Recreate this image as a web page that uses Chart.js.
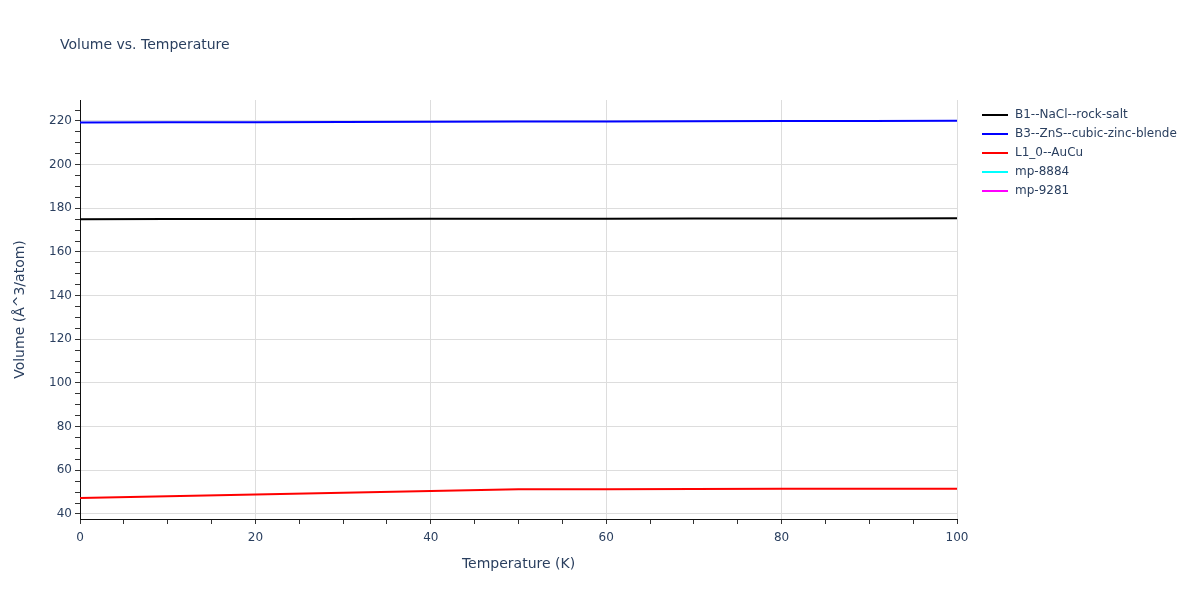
<!DOCTYPE html>
<html>
<head>
<meta charset="utf-8">
<script src="https://cdn.jsdelivr.net/npm/chart.js@4"></script>
<style>
  body { margin: 0; background: #fff; }
  #wrap { width: 1200px; height: 600px; position: relative; }
</style>
</head>
<body>
<div id="wrap"><canvas id="volumeChart"></canvas></div>
<script>
// temperatures (K)
const temps = [0, 10, 20, 30, 40, 50, 60, 70, 80, 90, 100];

// volume per atom for each structure
const rockSalt = [175.0, 175.05, 175.1, 175.14, 175.18, 175.22, 175.26, 175.3, 175.34, 175.38, 175.42];
const zincBlende = [219.3, 219.38, 219.46, 219.54, 219.62, 219.7, 219.78, 219.86, 219.94, 220.02, 220.1];
const auCu = [47.3, 48.1, 48.9, 49.7, 50.5, 51.3, 51.38, 51.44, 51.5, 51.55, 51.6];
const mp8884 = [];
const mp9281 = [];

const seriesNames = ["B1--NaCl--rock-salt", "B3--ZnS--cubic-zinc-blende", "L1_0--AuCu", "mp-8884", "mp-9281"];
const seriesColors = ["#000000", "#0000ff", "#ff0000", "#00ffff", "#ff00ff"];
const seriesValues = [rockSalt, zincBlende, auCu, mp8884, mp9281];

const fontFamily = "'DejaVu Sans', Verdana, sans-serif";
const textColor = "#2a3f5f";

const datasets = seriesNames.map((name, i) => ({
    label: name,
    data: seriesValues[i].map((v, j) => ({ x: temps[j], y: v })),
    borderColor: seriesColors[i],
    backgroundColor: seriesColors[i],
    borderWidth: 2,
    pointRadius: 0,
    tension: 0,
    fill: false,
}));

// title and legend drawn like plotly does
const extras = {
    id: "extras",
    afterDraw(chart) {
        const ctx = chart.ctx;
        ctx.save();
        ctx.fillStyle = textColor;
        ctx.textBaseline = "middle";
        ctx.font = "14px " + fontFamily;
        ctx.fillText("Volume vs. Temperature", 60, 45);

        ctx.font = "12px " + fontFamily;
        chart.data.datasets.forEach((ds, i) => {
            const y = 115 + i * 19;
            ctx.strokeStyle = ds.borderColor;
            ctx.lineWidth = 2;
            ctx.beginPath();
            ctx.moveTo(982, y);
            ctx.lineTo(1008, y);
            ctx.stroke();
            ctx.fillStyle = textColor;
            ctx.fillText(ds.label, 1015, y);
        });
        ctx.restore();
    },
};

function stepTicks(scale, step) {
    const out = [];
    for (let v = Math.ceil(scale.min / step) * step; v <= scale.max; v += step) {
        out.push({ value: v });
    }
    scale.ticks = out;
}

new Chart(document.getElementById("volumeChart"), {
    type: "line",
    data: { datasets: datasets },
    options: {
        responsive: true,
        maintainAspectRatio: false,
        animation: false,
        layout: { padding: { top: 100, right: 243, left: 0, bottom: 0 } },
        plugins: {
            legend: { display: false },
            tooltip: { enabled: false },
        },
        scales: {
            x: {
                type: "linear",
                min: 0,
                max: 100,
                afterBuildTicks: (s) => stepTicks(s, 5),
                afterFit: (s) => { s.height = 81; },
                border: { color: "#111", width: 1 },
                grid: {
                    color: (c) => (c.tick && c.tick.value % 20 === 0 && c.tick.value !== 0 ? "#dddddd" : "rgba(0,0,0,0)"),
                    tickColor: "#333",
                    tickLength: 5,
                    drawTicks: true,
                },
                ticks: {
                    autoSkip: false,
                    maxRotation: 0,
                    padding: 7,
                    color: textColor,
                    font: { family: fontFamily, size: 12 },
                    callback: (v) => (v % 20 === 0 ? v : ""),
                },
                title: {
                    display: true,
                    text: "Temperature (K)",
                    color: textColor,
                    font: { family: fontFamily, size: 14 },
                    padding: { top: 1, bottom: 27 },
                },
            },
            y: {
                min: 37.7,
                max: 229.6,
                afterBuildTicks: (s) => stepTicks(s, 5),
                afterFit: (s) => { s.width = 80; },
                border: { color: "#111", width: 1 },
                grid: {
                    color: (c) => (c.tick && c.tick.value % 20 === 0 ? "#dddddd" : "rgba(0,0,0,0)"),
                    tickColor: "#333",
                    tickLength: 5,
                },
                ticks: {
                    autoSkip: false,
                    padding: 3,
                    color: textColor,
                    font: { family: fontFamily, size: 12 },
                    callback: (v) => (v % 20 === 0 ? v : ""),
                },
                title: {
                    display: true,
                    text: "Volume (Å^3/atom)",
                    color: textColor,
                    font: { family: fontFamily, size: 14 },
                    padding: { top: 12, bottom: 0 },
                },
            },
        },
    },
    plugins: [extras],
});
</script>
</body>
</html>
